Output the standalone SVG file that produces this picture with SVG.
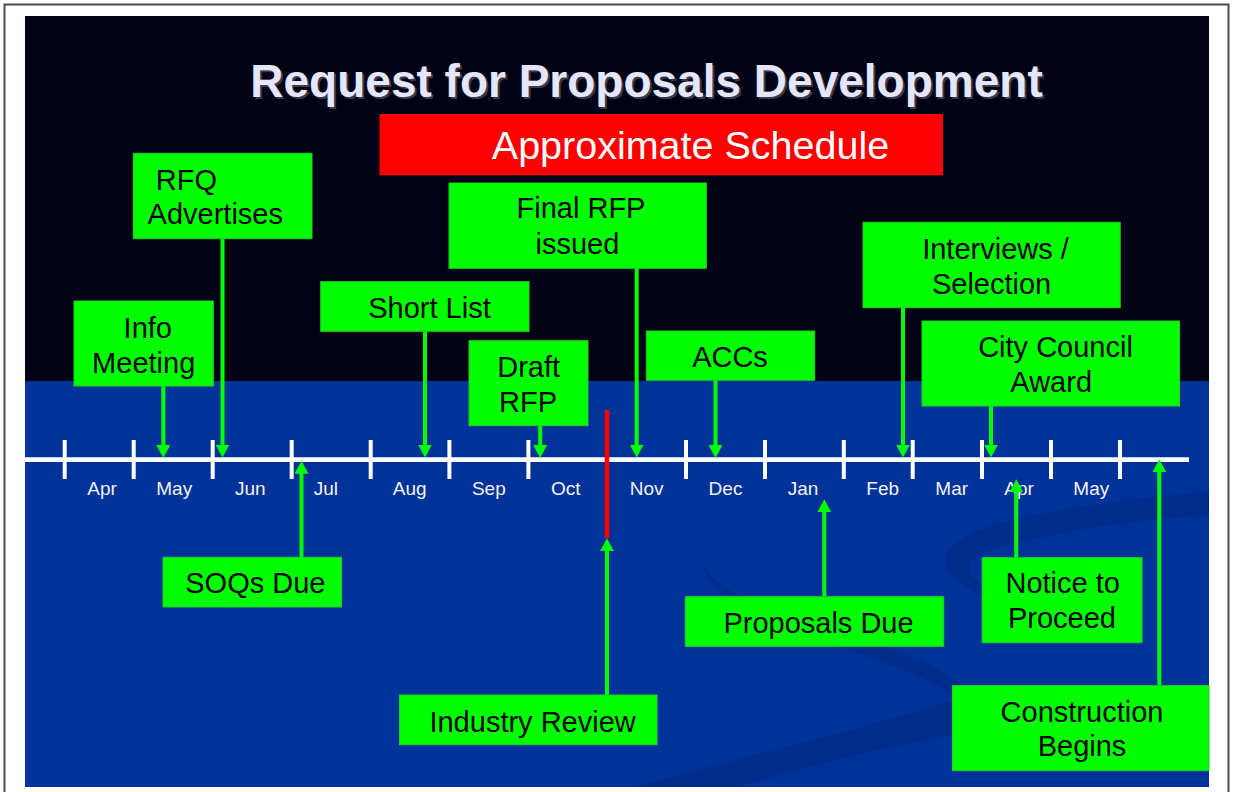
<svg xmlns="http://www.w3.org/2000/svg" width="1233" height="792" viewBox="0 0 1233 792">
  <style>
    .box { fill: #00ff00; stroke: #22d022; stroke-width: 1; }
    .lbl { font-family: "Liberation Sans", Arial, sans-serif; font-size: 29px; fill: #000000; text-anchor: middle; }
    .month { font-family: "Liberation Sans", Arial, sans-serif; font-size: 19px; fill: #f2f2f2; text-anchor: middle; }
    .tick { stroke: #ffffff; stroke-width: 4; }
    .conn { stroke: #00ff00; stroke-width: 4; fill: none; marker-end: url(#ah); }
    .swoosh { fill: #002d8c; }
  </style>
  <defs>
    <marker id="ah" viewBox="0 0 13 14" refX="3" refY="7" markerWidth="13" markerHeight="14" markerUnits="userSpaceOnUse" orient="auto">
      <path d="M0,0 L13,7 L0,14 Z" fill="#00ff00"/>
    </marker>
    <clipPath id="slideClip">
      <rect x="25" y="16" width="1184" height="771"/>
    </clipPath>
  </defs>

  <!-- page and frame -->
  <rect x="0" y="0" width="1233" height="792" fill="#ffffff"/>
  <rect x="4.5" y="4.5" width="1224" height="800" fill="none" stroke="#4a4a4a" stroke-width="2"/>

  <!-- slide background -->
  <g id="background" clip-path="url(#slideClip)">
    <rect x="25" y="16" width="1184" height="771" fill="#020216"/>
    <rect x="25" y="381" width="1184" height="406" fill="#003399"/>
    <path class="swoosh" d="M1209,491 C1120,500 1005,514 962,538 C934,555 940,577 985,597 L991,590 C962,574 962,560 992,549 C1060,530 1150,519 1209,515 Z"/>
    <path class="swoosh" d="M703,556 C704,592 780,614 870,642 C920,658 952,672 968,692 L958,702 C940,682 905,670 860,654 C770,624 698,598 703,556 Z"/>
    <path class="swoosh" d="M628,788 C700,768 807,744 952,701 L952,735 C860,752 790,772 735,788 Z"/>
  </g>

  <!-- title -->
  <g id="title">
    <text x="648.5" y="99" font-family="Liberation Sans, Arial, sans-serif" font-size="46" font-weight="bold" fill="#3a3a4a" text-anchor="middle">Request for Proposals Development</text>
    <text x="646.5" y="97" font-family="Liberation Sans, Arial, sans-serif" font-size="46" font-weight="bold" fill="#e6e6fa" text-anchor="middle">Request for Proposals Development</text>
  </g>

  <g id="subtitle">
    <rect x="379.5" y="114" width="563.5" height="61.3" fill="#ff0000"/>
    <text x="690.5" y="159.3" font-family="Liberation Sans, Arial, sans-serif" font-size="39.5" fill="#ffffff" text-anchor="middle">Approximate Schedule</text>
  </g>

  <!-- timeline axis -->
  <g id="timeline">
    <line x1="25" y1="459.6" x2="1189" y2="459.6" stroke="#ffffff" stroke-width="4.6"/>
    <line class="tick" x1="64.7" y1="440" x2="64.7" y2="479"/>
    <line class="tick" x1="133.7" y1="440" x2="133.7" y2="479"/>
    <line class="tick" x1="212.7" y1="440" x2="212.7" y2="479"/>
    <line class="tick" x1="291.7" y1="440" x2="291.7" y2="479"/>
    <line class="tick" x1="370.7" y1="440" x2="370.7" y2="479"/>
    <line class="tick" x1="449.4" y1="440" x2="449.4" y2="479"/>
    <line class="tick" x1="528.4" y1="440" x2="528.4" y2="479"/>
    <line class="tick" x1="607" y1="440" x2="607" y2="479"/>
    <line class="tick" x1="686" y1="440" x2="686" y2="479"/>
    <line class="tick" x1="765" y1="440" x2="765" y2="479"/>
    <line class="tick" x1="843.8" y1="440" x2="843.8" y2="479"/>
    <line class="tick" x1="912.7" y1="440" x2="912.7" y2="479"/>
    <line class="tick" x1="982" y1="440" x2="982" y2="479"/>
    <line class="tick" x1="1051" y1="440" x2="1051" y2="479"/>
    <line class="tick" x1="1120" y1="440" x2="1120" y2="479"/>
    <text class="month" x="102" y="495">Apr</text>
    <text class="month" x="174.2" y="495">May</text>
    <text class="month" x="250.3" y="495">Jun</text>
    <text class="month" x="325.8" y="495">Jul</text>
    <text class="month" x="409.7" y="495">Aug</text>
    <text class="month" x="488.8" y="495">Sep</text>
    <text class="month" x="565.7" y="495">Oct</text>
    <text class="month" x="646.7" y="495">Nov</text>
    <text class="month" x="725.5" y="495">Dec</text>
    <text class="month" x="803" y="495">Jan</text>
    <text class="month" x="882.7" y="495">Feb</text>
    <text class="month" x="951.7" y="495">Mar</text>
    <text class="month" x="1019" y="495">Apr</text>
    <text class="month" x="1091.3" y="495">May</text>
    <!-- industry review marker line -->
    <line x1="607" y1="410" x2="607" y2="538" stroke="#ff0000" stroke-width="4.6"/>
  </g>

  <!-- connectors -->
  <g id="connectors">
    <line class="conn" x1="163.3" y1="386" x2="163.3" y2="448"/>
    <line class="conn" x1="222.5" y1="238.7" x2="222.5" y2="447.5"/>
    <line class="conn" x1="425" y1="331.3" x2="425" y2="447.5"/>
    <line class="conn" x1="540.2" y1="425.7" x2="540.2" y2="448"/>
    <line class="conn" x1="636.7" y1="268.3" x2="636.7" y2="447.5"/>
    <line class="conn" x1="715.5" y1="380.3" x2="715.5" y2="448"/>
    <line class="conn" x1="903" y1="307.7" x2="903" y2="447.5"/>
    <line class="conn" x1="991" y1="406" x2="991" y2="447.5"/>
    <line class="conn" x1="301.5" y1="557.3" x2="301.5" y2="470.7"/>
    <line class="conn" x1="607" y1="695" x2="607" y2="548.3"/>
    <line class="conn" x1="824.3" y1="596.7" x2="824.3" y2="509.3"/>
    <line class="conn" x1="1016.3" y1="557.7" x2="1016.3" y2="489.3"/>
    <line class="conn" x1="1159.3" y1="685.7" x2="1159.3" y2="469.3"/>
  </g>

  <!-- milestone boxes -->
  <g id="rfq-advertises">
    <rect class="box" x="133.3" y="153.3" width="178.7" height="85.4"/>
    <text class="lbl" x="186.4" y="190">RFQ</text>
    <text class="lbl" x="215.3" y="224">Advertises</text>
  </g>
  <g id="info-meeting">
    <rect class="box" x="74" y="301" width="139.3" height="85"/>
    <text class="lbl" x="147.8" y="338.3">Info</text>
    <text class="lbl" x="143.7" y="372.7">Meeting</text>
  </g>
  <g id="short-list">
    <rect class="box" x="320.7" y="281.7" width="208.3" height="49.6"/>
    <text class="lbl" x="429.5" y="317.7">Short List</text>
  </g>
  <g id="draft-rfp">
    <rect class="box" x="469" y="340.7" width="119" height="85"/>
    <text class="lbl" x="528.7" y="376.7">Draft</text>
    <text class="lbl" x="528" y="411.7">RFP</text>
  </g>
  <g id="final-rfp">
    <rect class="box" x="449" y="183" width="257.3" height="85.3"/>
    <text class="lbl" x="581" y="218.3">Final RFP</text>
    <text class="lbl" x="577.4" y="254">issued</text>
  </g>
  <g id="accs">
    <rect class="box" x="646.3" y="331" width="168.4" height="49.3"/>
    <text class="lbl" x="730" y="367.3">ACCs</text>
  </g>
  <g id="interviews">
    <rect class="box" x="863" y="222.3" width="257.2" height="85.4"/>
    <text class="lbl" x="995.5" y="259.3">Interviews /</text>
    <text class="lbl" x="991.6" y="294">Selection</text>
  </g>
  <g id="city-council">
    <rect class="box" x="922" y="321" width="257.5" height="85"/>
    <text class="lbl" x="1055.5" y="356.7">City Council</text>
    <text class="lbl" x="1051.2" y="391.7">Award</text>
  </g>
  <g id="soqs-due">
    <rect class="box" x="163" y="557.3" width="178.5" height="49.7"/>
    <text class="lbl" x="255.4" y="593.3">SOQs Due</text>
  </g>
  <g id="industry-review">
    <rect class="box" x="399.6" y="695" width="257.4" height="49.7"/>
    <text class="lbl" x="532.6" y="731.7">Industry Review</text>
  </g>
  <g id="proposals-due">
    <rect class="box" x="685.3" y="596.7" width="258.4" height="49.6"/>
    <text class="lbl" x="818.5" y="632.7">Proposals Due</text>
  </g>
  <g id="notice-to-proceed">
    <rect class="box" x="982.2" y="557.7" width="159.8" height="85"/>
    <text class="lbl" x="1062.7" y="593.3">Notice to</text>
    <text class="lbl" x="1062" y="628.3">Proceed</text>
  </g>
  <g id="construction-begins">
    <rect class="box" x="952.5" y="685.7" width="256.5" height="85"/>
    <text class="lbl" x="1082" y="721.7">Construction</text>
    <text class="lbl" x="1082" y="755.7">Begins</text>
  </g>
</svg>
